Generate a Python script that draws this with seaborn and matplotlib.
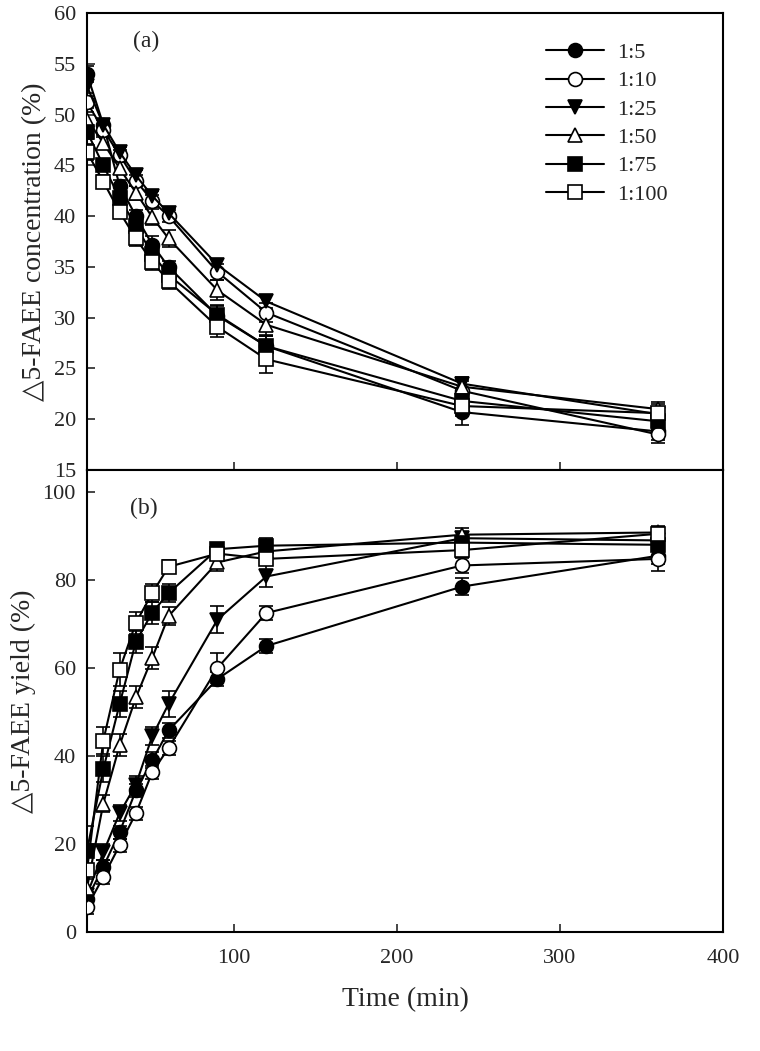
import numpy as np
import pandas as pd
import matplotlib
matplotlib.use("Agg")
import matplotlib.pyplot as plt
import seaborn as sns

sns.set_style("ticks")
plt.rcParams['font.family'] = ['Liberation Serif', 'DejaVu Sans']
plt.rcParams['mathtext.fontset'] = 'stix'

time_min = [10, 20, 30, 40, 50, 60, 90, 120, 240, 360]
ratios = ["1:5", "1:10", "1:25", "1:50", "1:75", "1:100"]

# panel (a): concentration (%)
conc_1_5 = [54.0, 49.0, 43.0, 40.0, 37.2, 35.0, 30.2, 27.2, 20.7, 18.8]
conc_1_10 = [51.2, 48.5, 46.0, 43.5, 41.5, 40.0, 34.5, 30.5, 22.8, 18.5]
conc_1_25 = [52.8, 49.0, 46.3, 44.0, 42.0, 40.3, 35.2, 31.6, 23.5, 20.5]
conc_1_50 = [49.5, 47.2, 44.7, 42.3, 39.9, 37.8, 32.7, 29.3, 23.2, 21.0]
conc_1_75 = [48.3, 45.0, 41.8, 39.0, 36.3, 34.2, 30.3, 27.2, 21.8, 19.8]
conc_1_100 = [46.3, 43.4, 40.4, 37.8, 35.5, 33.6, 29.1, 25.9, 21.3, 20.6]

conc_err_1_5 = [0.8, 0.6, 0.6, 0.6, 0.8, 0.6, 0.9, 1.0, 1.3, 0.8]
conc_err_1_10 = [0.6, 0.5, 0.5, 0.5, 0.6, 0.6, 0.8, 0.9, 1.0, 0.8]
conc_err_1_25 = [0.7, 0.5, 0.5, 0.5, 0.5, 0.5, 0.6, 0.6, 0.7, 0.6]
conc_err_1_50 = [0.8, 0.6, 0.6, 0.7, 0.8, 0.8, 1.0, 1.0, 0.8, 0.7]
conc_err_1_75 = [0.7, 0.6, 0.6, 0.7, 0.8, 0.8, 0.9, 1.0, 0.9, 0.8]
conc_err_1_100 = [0.8, 0.6, 0.6, 0.7, 0.8, 0.8, 1.0, 1.3, 1.0, 0.9]

# panel (b): yield (%)
yield_1_5 = [7.5, 14.8, 22.7, 32.2, 39.0, 45.8, 57.5, 65.0, 78.5, 85.5]
yield_1_10 = [5.7, 12.5, 19.7, 27.0, 36.3, 41.8, 60.0, 72.5, 83.3, 84.8]
yield_1_25 = [8.5, 18.1, 27.0, 33.5, 44.5, 51.8, 71.0, 80.8, 89.5, 89.0]
yield_1_50 = [10.0, 29.2, 42.4, 53.3, 62.3, 71.8, 84.0, 86.5, 90.3, 90.8]
yield_1_75 = [18.5, 37.0, 51.8, 66.0, 72.6, 77.0, 87.0, 87.8, 88.5, 88.0]
yield_1_100 = [14.0, 43.5, 59.6, 70.3, 77.0, 83.0, 86.0, 84.8, 86.8, 90.5]

yield_err_1_5 = [1.5, 1.5, 1.5, 1.5, 1.8, 1.8, 1.5, 1.5, 2.0, 1.8]
yield_err_1_10 = [1.5, 1.5, 1.5, 1.5, 1.5, 1.5, 3.5, 1.5, 1.8, 2.7]
yield_err_1_25 = [1.5, 1.8, 1.8, 2.0, 2.0, 3.0, 3.0, 2.5, 1.5, 1.5]
yield_err_1_50 = [2.0, 2.0, 2.5, 2.5, 2.5, 2.0, 2.0, 1.5, 1.5, 1.5]
yield_err_1_75 = [5.7, 3.0, 3.0, 2.5, 2.5, 2.0, 1.5, 1.8, 1.5, 1.5]
yield_err_1_100 = [5.0, 3.0, 3.8, 2.5, 2.0, 1.5, 1.5, 1.5, 1.5, 1.5]

conc_vals = [conc_1_5, conc_1_10, conc_1_25, conc_1_50, conc_1_75, conc_1_100]
conc_errs = [conc_err_1_5, conc_err_1_10, conc_err_1_25, conc_err_1_50, conc_err_1_75, conc_err_1_100]
yield_vals = [yield_1_5, yield_1_10, yield_1_25, yield_1_50, yield_1_75, yield_1_100]
yield_errs = [yield_err_1_5, yield_err_1_10, yield_err_1_25, yield_err_1_50, yield_err_1_75, yield_err_1_100]

markers = ['o', 'o', 'v', '^', 's', 's']
faces = ['black', 'white', 'black', 'white', 'black', 'white']

fig = plt.figure(figsize=(7.6, 10.51), dpi=100)
ax_a = fig.add_axes([87/760, 1-470/1051, (723-87)/760, (470-13)/1051])
ax_b = fig.add_axes([87/760, 1-932/1051, (723-87)/760, (932-470)/1051])


def draw(ax, vals, errs):
    for lab, v, e, m, fc in zip(ratios, vals, errs, markers, faces):
        df = pd.DataFrame({"t": time_min, "v": v})
        ax.errorbar(time_min, v, yerr=e, fmt='none', ecolor='black',
                    elinewidth=1.2, capsize=5, capthick=1.2, zorder=2)
        sns.lineplot(data=df, x="t", y="v", ax=ax, color='black', linewidth=1.5,
                     marker=m, markersize=10, markerfacecolor=fc,
                     markeredgecolor='black', markeredgewidth=1.2,
                     label=lab, zorder=3)


draw(ax_a, conc_vals, conc_errs)
draw(ax_b, yield_vals, yield_errs)

for ax in (ax_a, ax_b):
    ax.set_xlim(10, 400)
    ax.set_xticks([100, 200, 300, 400])
    ax.tick_params(direction='in', length=6, width=1.2, labelsize=16,
                   top=False, right=False)
    ax.tick_params(axis='y', pad=8)
    for s in ax.spines.values():
        s.set_linewidth(1.5)
        s.set_color('black')
    ax.set_xlabel("")

ax_a.set_ylim(15, 60)
ax_a.set_yticks(np.arange(15, 61, 5))
ax_a.tick_params(labelbottom=False)
ax_a.set_ylabel("△5-FAEE concentration (%)", fontsize=20, labelpad=5)
ax_a.text(0.072, 0.925, "(a)", transform=ax_a.transAxes, fontsize=17)

ax_b.set_ylim(0, 105)
ax_b.set_yticks(np.arange(0, 101, 20))
ax_b.set_ylabel("△5-FAEE yield (%)", fontsize=20, labelpad=5)
ax_b.set_xlabel("Time (min)", fontsize=20, labelpad=14)
ax_b.tick_params(axis='x', pad=12)
ax_b.text(0.068, 0.905, "(b)", transform=ax_b.transAxes, fontsize=17)
ax_b.get_legend().remove()

leg = ax_a.legend(loc='upper left', bbox_to_anchor=(0.705, 0.96), frameon=False,
                  fontsize=16, handlelength=2.6, labelspacing=0.35,
                  handletextpad=0.6, borderpad=0)

fig.savefig("out.png", dpi=100)
